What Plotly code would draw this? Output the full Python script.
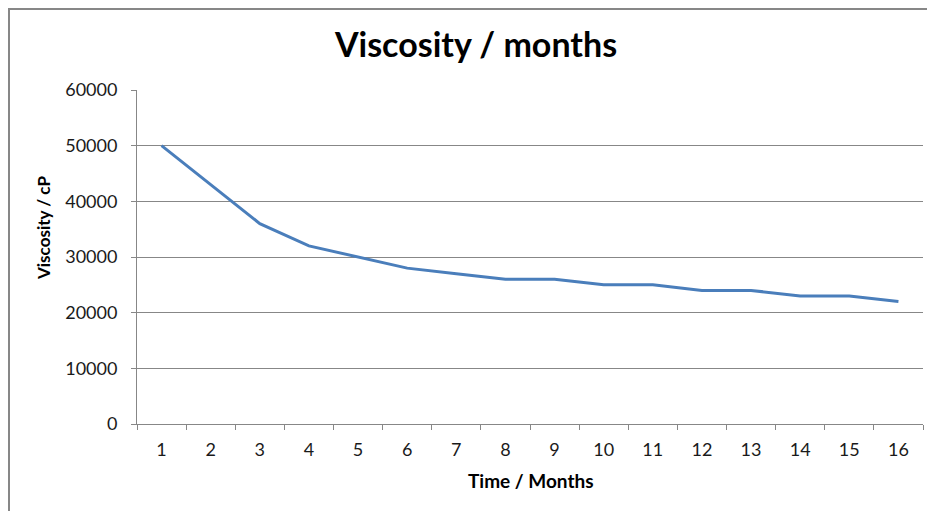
import plotly.graph_objects as go

months = [str(i) for i in range(1, 17)]
viscosity = [50000, 43000, 36000, 32000, 30000, 28000, 27000, 26000, 26000,
             25000, 25000, 24000, 24000, 23000, 23000, 22000]
y_ticks = [0, 10000, 20000, 30000, 40000, 50000, 60000]

title_text = "Viscosity / months"
x_title = "Time / Months"
y_title = "Viscosity / cP"

FONT = "Lato, 'Open Sans', sans-serif"
GRID = "#878787"

# page body has an 8px default margin; compensate so the picture lands in place
OFF = 8
W, H = 935, 511
PL, PR, PT, PB = 137, 923, 90, 424  # plot area in screen px
L, T = PL - OFF, PT - OFF
pw, ph = PR - PL, PB - PT
R = W - L - pw
B = H - T - ph

def px_x(x):
    return (x - PL) / pw

def px_y(y):
    return (PB - y) / ph

fig = go.Figure()
fig.add_trace(go.Scatter(
    x=months, y=viscosity, mode="lines",
    line=dict(color="#4A7EBB", width=3),
    showlegend=False, hoverinfo="x+y",
))

fig.update_layout(
    width=W, height=H,
    margin=dict(l=L, r=R, t=T, b=B),
    paper_bgcolor="white", plot_bgcolor="white",
    font=dict(family=FONT, color="#000000", size=18),
    title=dict(text=f"<b>{title_text}</b>", x=(476 - OFF) / W, xref="container",
               xanchor="center", y=1 - (45 - OFF) / H, yanchor="middle",
               font=dict(family=FONT, size=34, color="#000000")),
    xaxis=dict(
        type="category", range=[-0.5, 15.5],
        tickson="boundaries", ticks="outside", ticklen=5, tickcolor=GRID,
        showline=True, linecolor=GRID, linewidth=1,
        showgrid=False, zeroline=False,
        tickfont=dict(family=FONT, size=18, color="#1a1a1a"),
        ticklabelstandoff=9,
    ),
    yaxis=dict(
        range=[0, 60000], tickvals=y_ticks, tickformat="d",
        ticks="outside", ticklen=5, tickcolor=GRID,
        showline=True, linecolor=GRID, linewidth=1,
        showgrid=True, gridcolor=GRID, gridwidth=1, zeroline=False,
        tickfont=dict(family=FONT, size=18, color="#1a1a1a"),
        ticklabelstandoff=10,
    ),
    annotations=[
        dict(text=f"<b>{y_title}</b>", textangle=-90,
             xref="paper", yref="paper", x=px_x(43), y=px_y(228),
             xanchor="center", yanchor="middle", showarrow=False,
             font=dict(family=FONT, size=17, color="#000")),
        dict(text=f"<b>{x_title}</b>",
             xref="paper", yref="paper", x=px_x(531), y=px_y(480),
             xanchor="center", yanchor="middle", showarrow=False,
             font=dict(family=FONT, size=19, color="#000")),
    ],
    shapes=[dict(
        type="rect", xref="paper", yref="paper",
        x0=px_x(9), x1=px_x(960), y0=px_y(540), y1=px_y(9),
        line=dict(color="#878787", width=2), fillcolor="rgba(0,0,0,0)",
        layer="below",
    )],
)

fig.write_html("out.html")
